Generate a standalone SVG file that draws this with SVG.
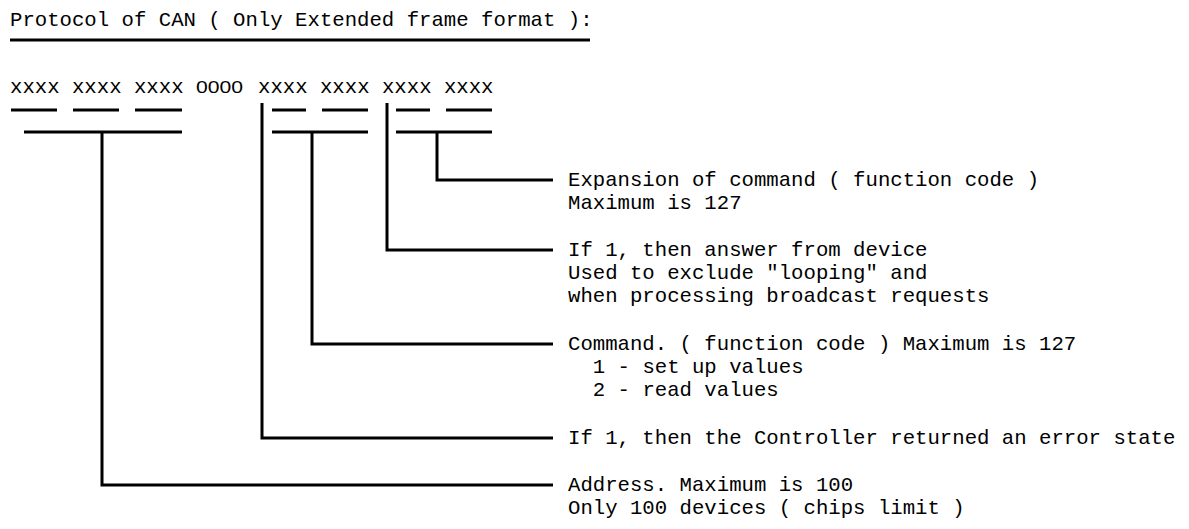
<svg xmlns="http://www.w3.org/2000/svg" width="1189" height="529" viewBox="0 0 1189 529">
<style>
.m{font-family:"Courier New","Liberation Mono",monospace;font-size:20.67px;fill:#000}
.s{font-family:"Liberation Sans",Arial,sans-serif;font-size:16px;fill:#000}
.ln{stroke:#000;stroke-width:3;fill:none;stroke-linejoin:miter;stroke-linecap:butt}
</style>
<rect width="1189" height="529" fill="#fff"/>
<g id="title">
<text class="m" x="10" y="26">Protocol of CAN ( Only Extended frame format ):</text>
<line class="ln" x1="10" y1="40" x2="590" y2="40"/>
</g>
<g id="bits">
<text class="m" x="10" y="93" xml:space="preserve">xxxx xxxx xxxx</text>
<text class="s" x="196" y="93" textLength="47" lengthAdjust="spacingAndGlyphs">0000</text>
<text class="m" x="258" y="93" xml:space="preserve">xxxx xxxx xxxx xxxx</text>
<path class="ln" d="M11 110H57M73 110H119M135 110H182M272 110H306M322 110H368M396 110H430M446 110H492"/>
<path class="ln" d="M24 132H182M272 132H368M396 132H492"/>
</g>
<g id="connectors">
<path class="ln" d="M437 132V180H553"/>
<path class="ln" d="M387 103V250H553"/>
<path class="ln" d="M312 132V344H553"/>
<path class="ln" d="M262 103V438H553"/>
<path class="ln" d="M102 132V485H553"/>
</g>
<g id="desc-expansion">
<text class="m" x="568" y="186">Expansion of command ( function code )</text>
<text class="m" x="568" y="209">Maximum is 127</text>
</g>
<g id="desc-answer">
<text class="m" x="568" y="256">If 1, then answer from device</text>
<text class="m" x="568" y="279">Used to exclude "looping" and</text>
<text class="m" x="568" y="302">when processing broadcast requests</text>
</g>
<g id="desc-command">
<text class="m" x="568" y="350">Command. ( function code ) Maximum is 127</text>
<text class="m" x="592.8" y="373">1 - set up values</text>
<text class="m" x="592.8" y="396">2 - read values</text>
</g>
<g id="desc-error">
<text class="m" x="568" y="444">If 1, then the Controller returned an error state</text>
</g>
<g id="desc-address">
<text class="m" x="568" y="491">Address. Maximum is 100</text>
<text class="m" x="568" y="514">Only 100 devices ( chips limit )</text>
</g>
</svg>
